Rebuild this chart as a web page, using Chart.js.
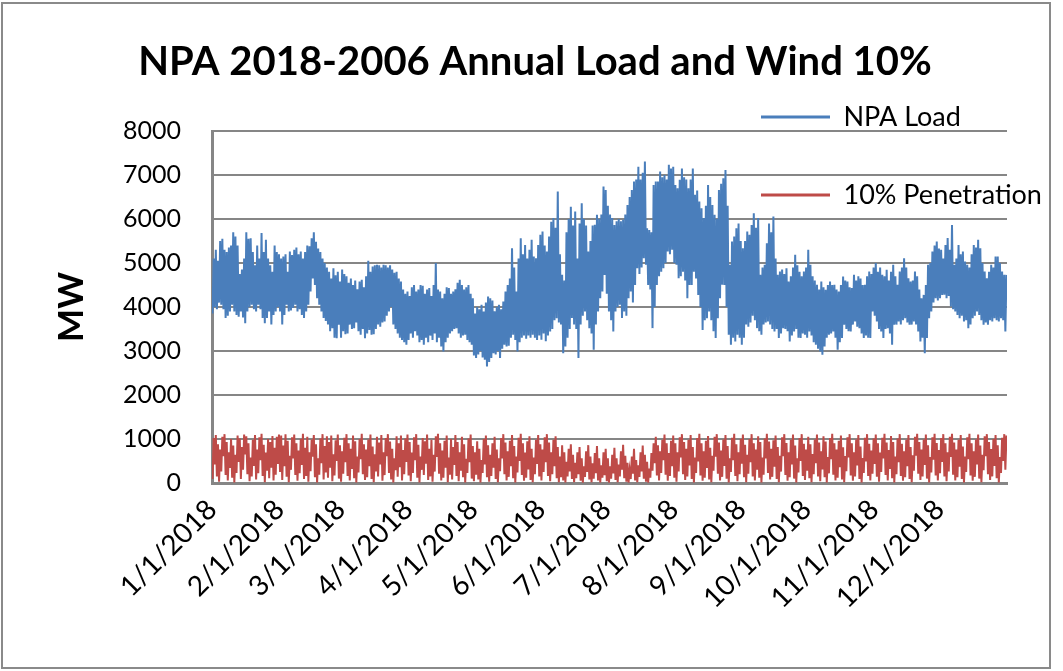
<!DOCTYPE html>
<html><head><meta charset="utf-8">
<script src="https://cdn.jsdelivr.net/npm/chart.js@4.4.1/dist/chart.umd.min.js"></script>
<style>
html,body{margin:0;padding:0;background:#fff;}
#wrap{position:relative;width:1063px;height:671px;overflow:hidden;background:#fff;}
#frame{position:absolute;left:1px;top:2px;width:1050px;height:667px;border:2px solid #8a8a8a;box-sizing:border-box;pointer-events:none;}
canvas{position:absolute;left:0;top:0;}
</style></head><body>
<div id="wrap"><canvas id="c" width="1063" height="671"></canvas><div id="frame"></div></div>
<script>
const chartTitle = 'NPA 2018-2006 Annual Load and Wind 10%';
const yTitle = 'MW';
const seriesNames = ['NPA Load', '10% Penetration'];
const monthLabels = ['1/1/2018','2/1/2018','3/1/2018','4/1/2018','5/1/2018','6/1/2018','7/1/2018','8/1/2018','9/1/2018','10/1/2018','11/1/2018','12/1/2018'];
const monthStartDays = [0,31,59,90,120,151,181,212,243,273,304,334];
const yTicks = [0,1000,2000,3000,4000,5000,6000,7000,8000];

// NPA Load (MW): for each day, overnight low then daytime high
const loadJan = [3850,5100, 4000,5300, 3950,5050, 4100,5500, 4050,5550, 3950,5300, 3750,5250, 3800,5350, 3900,5400, 4050,5700, 3900,5600, 3820,5400, 3780,4750, 3900,4850, 3760,5100, 3630,5700, 3900,5550, 4000,5560, 4050,5250, 3950,4950, 3900,5400, 4050,5100, 3950,5680, 3750,5250, 3630,5530, 3750,5100, 3900,4950, 3600,4800, 3820,5400, 3900,5250, 4000,5200];
const loadFeb = [3900,5100, 3600,5150, 3820,5200, 4050,4800, 3900,5260, 3920,5180, 3980,5300, 4050,5350, 3900,5200, 3950,5260, 3820,5100, 3750,5250, 3900,5400, 4050,5380, 4350,5560, 4650,5700, 4500,5480, 4200,5330, 4050,5250, 3900,5100, 3750,5000, 3680,4900, 3600,4800, 3450,4650, 3520,4880, 3300,4720, 3290,4800, 3600,4580];
const loadMar = [3300,4850, 3450,4750, 3380,4700, 3400,4550, 3600,4650, 3500,4500, 3520,4600, 3650,4400, 3450,4580, 3370,4620, 3500,4450, 3290,4700, 3400,5050, 3480,4800, 3370,4920, 3380,4950, 3500,4960, 3600,4950, 3550,4900, 3650,4960, 3670,4950, 3800,4900, 3900,4950, 4000,4850, 3600,4780, 3500,4800, 3400,4650, 3300,4580, 3250,4400, 3200,4300, 3140,4350];
const loadApr = [3250,4250, 3400,4450, 3300,4500, 3450,4350, 3350,4400, 3200,4500, 3250,4480, 3140,4300, 3300,4400, 3200,4430, 3350,4250, 3250,4500, 3400,5000, 3200,4400, 3300,4350, 3100,4200, 2990,4300, 3200,4450, 3300,4430, 3400,4300, 3450,4350, 3500,4400, 3520,4550, 3400,4620, 3300,4500, 3350,4400, 3370,4450, 3250,4500, 3200,4300, 3140,4200];
const loadMay = [2900,3850, 2840,4000, 2920,3950, 3000,4050, 2850,3900, 2800,4100, 2650,4240, 2750,4200, 2840,4150, 2950,3900, 2920,4000, 3000,4050, 2840,3950, 3050,4125, 3140,4350, 3100,4500, 3120,4650, 3300,5335, 3370,4900, 3250,4350, 2990,5100, 3200,5565, 3300,5200, 3350,5410, 3280,5100, 3350,5300, 3300,5530, 3370,5150, 3300,5110, 3250,5410, 3350,5640];
const loadJun = [3255,5715, 3400,5400, 3220,5260, 3350,5600, 3445,5940, 3500,6020, 3700,5800, 3745,6625, 3650,5200, 3600,4730, 2950,4600, 3100,5700, 3300,6000, 3500,6280, 3750,5850, 3600,6170, 3500,5100, 2840,5900, 3600,6360, 3800,6000, 3900,5850, 3700,5260, 3520,5500, 3400,5850, 3030,5870, 3600,6095, 3900,6000, 4200,6100, 4350,6740, 4730,6660];
const loadJul = [4300,6300, 3900,6100, 3700,6020, 3445,5865, 3900,5950, 4000,6000, 4050,5950, 3750,5980, 3900,6100, 3800,6320, 4200,6500, 4350,6660, 4100,6850, 4500,6900, 4880,7190, 4750,6900, 4900,7050, 5110,7305, 4960,5790, 4500,5750, 4400,5700, 3520,6775, 4000,6850, 4500,6850, 4700,7080, 4800,6950, 4880,7000, 5000,6900, 5260,7230, 5200,7150, 5300,7190];
const loadAug = [5000,6775, 4960,6700, 4655,6890, 4700,7150, 4800,6950, 4600,6900, 4200,6700, 4500,6900, 4500,7150, 4800,6550, 4650,6650, 4275,6400, 4000,6245, 3480,6020, 3700,6300, 3745,6775, 3900,6500, 3700,6320, 3450,6095, 3295,6000, 3745,6660, 4200,6800, 4505,6925, 4500,7115, 4000,6300, 3370,4960, 3140,5490, 3300,5600, 3215,5790, 3370,5900, 3300,5500];
const loadSep = [3140,5335, 3300,5500, 3600,5715, 3550,5640, 3650,5865, 3800,6130, 3700,5800, 3520,6020, 3450,4730, 3370,4900, 3600,4960, 3650,5450, 3670,5900, 3600,5700, 3500,6055, 3445,5100, 3500,4730, 3295,4805, 3400,4850, 3520,4750, 3500,4880, 3450,4580, 3215,4700, 3350,4900, 3445,5185, 3500,4950, 3300,4800, 3295,4700, 3400,4805, 3370,4900];
const loadOct = [3300,5300, 3445,4960, 3350,4700, 3200,4600, 3140,4505, 3050,4400, 2990,4580, 2915,4450, 3100,4390, 3300,4500, 3370,4580, 3400,4500, 3445,4505, 3300,4400, 3030,4350, 3200,4500, 3295,4690, 3595,4600, 3500,4580, 3450,4450, 3445,4430, 3600,4730, 3670,4600, 3550,4700, 3520,4650, 3400,4500, 3295,4505, 3350,4700, 3300,4805, 3295,4750, 3900,4900];
const loadNov = [3800,5000, 3670,4800, 3500,4900, 3445,4730, 3295,4700, 3500,4845, 3520,4600, 3400,4800, 3140,4960, 3595,4700, 3600,4505, 3670,4805, 3600,4900, 3700,5110, 3745,4900, 3650,4655, 3595,4580, 3600,4600, 3670,4805, 3600,4700, 3445,4400, 3215,4200, 3300,4275, 2950,4500, 3295,4960, 3745,5000, 3900,5260, 4100,5400, 4200,5490, 4150,5330];
const loadDec = [4200,5300, 4275,5100, 4280,5410, 4200,5565, 4250,5300, 4010,5865, 3950,4960, 3900,5100, 3820,5410, 3745,5200, 3800,5260, 3670,5035, 3700,4960, 3520,4900, 3600,5200, 3745,5410, 3800,5350, 3900,5530, 3820,5335, 3700,5000, 3595,4805, 3650,4655, 3595,4800, 3700,4960, 3670,4900, 3745,5150, 3700,5150, 3670,5000, 3745,4805, 3700,4730, 3445,4730];

// 10% wind penetration (MW): two readings per day
const windJan = [90,1020, 420,1090, 150,880, 30,760, 260,1050, 610,1110, 180,930, 60,700, 340,1000, 120,850, 10,640, 230,1080, 480,1010, 90,820, 300,1100, 650,1060, 200,900, 40,580, 150,980, 390,1090, 80,760, 220,1040, 520,1120, 160,870, 20,690, 280,1000, 110,930, 350,1070, 60,800, 190,1050, 430,1100];
const windFeb = [250,1080, 70,850, 380,1110, 140,960, 20,620, 300,1040, 560,1100, 180,900, 50,740, 220,1000, 410,1120, 90,800, 160,1050, 30,700, 270,990, 600,1090, 130,880, 10,560, 190,1010, 450,1110, 80,840, 240,1060, 120,930, 350,1080, 40,650, 170,970, 500,1100, 100,860];
const windMar = [30,720, 210,1030, 470,1110, 160,900, 60,780, 320,1080, 110,950, 10,600, 240,1000, 540,1120, 200,880, 70,760, 130,990, 380,1100, 90,830, 20,650, 260,1050, 150,920, 420,1090, 50,700, 180,1020, 610,1110, 230,940, 80,780, 10,560, 290,1060, 140,900, 360,1080, 60,750, 200,1010, 480,1100];
const windApr = [170,930, 40,690, 230,1040, 520,1110, 120,870, 10,600, 300,1020, 180,950, 440,1100, 70,780, 150,980, 30,640, 260,1060, 590,1120, 210,900, 60,740, 120,960, 350,1080, 20,580, 190,1000, 80,820, 410,1090, 160,930, 40,700, 280,1050, 130,880, 10,550, 230,1010, 470,1100, 100,840];
const windMay = [40,700, 190,950, 80,780, 10,520, 230,1000, 420,1080, 130,860, 30,640, 160,900, 350,1050, 90,760, 20,560, 270,1020, 560,1110, 200,920, 60,720, 140,960, 380,1090, 110,840, 10,600, 240,1030, 500,1120, 180,900, 50,690, 120,950, 310,1060, 70,780, 20,580, 200,980, 430,1090, 150,880];
const windJun = [60,760, 250,1040, 470,1110, 160,920, 40,700, 200,980, 380,1060, 110,820, 20,600, 130,860, 60,700, 10,480, 150,780, 260,880, 90,640, 20,460, 110,700, 200,820, 50,560, 10,380, 140,720, 250,860, 80,600, 20,450, 100,680, 220,840, 60,560, 10,400, 120,700, 180,780];
const windJul = [40,560, 10,380, 100,640, 220,800, 70,560, 20,420, 150,720, 300,870, 110,620, 30,460, 10,300, 90,600, 210,780, 60,520, 20,400, 140,700, 260,850, 100,640, 30,480, 10,330, 120,680, 280,900, 450,1050, 170,860, 60,720, 230,980, 520,1100, 190,900, 50,680, 160,960, 380,1080];
const windAug = [120,900, 30,700, 260,1040, 580,1110, 200,930, 70,780, 150,980, 400,1090, 90,820, 10,580, 230,1020, 490,1120, 170,900, 50,720, 120,960, 340,1070, 80,800, 20,620, 280,1050, 600,1110, 210,920, 60,740, 140,990, 390,1090, 100,840, 10,560, 250,1030, 520,1120, 160,880, 40,700, 200,1000];
const windSep = [440,1100, 130,870, 20,640, 210,1000, 470,1110, 150,900, 60,760, 300,1060, 120,930, 10,580, 190,1010, 560,1120, 230,940, 80,780, 140,970, 370,1080, 90,820, 20,620, 260,1040, 610,1110, 180,910, 50,700, 130,980, 420,1100, 100,850, 10,560, 240,1020, 500,1110, 160,890, 70,760];
const windOct = [280,1050, 110,880, 20,660, 200,990, 450,1100, 150,920, 40,720, 310,1060, 130,940, 10,590, 220,1020, 540,1120, 190,900, 60,760, 120,960, 360,1080, 80,810, 20,610, 270,1040, 580,1110, 170,900, 50,700, 150,990, 400,1090, 90,830, 10,570, 230,1030, 490,1110, 160,890, 60,740, 210,1010];
const windNov = [430,1100, 140,900, 30,690, 250,1030, 560,1120, 180,920, 60,750, 320,1070, 110,930, 10,600, 200,1010, 470,1110, 160,890, 50,720, 130,980, 380,1090, 90,820, 20,630, 280,1050, 620,1120, 210,930, 70,760, 150,990, 410,1100, 100,860, 10,590, 240,1040, 530,1120, 170,910, 60,750];
const windDec = [220,1020, 480,1110, 150,900, 40,700, 260,1050, 590,1120, 190,920, 60,760, 130,980, 370,1090, 90,830, 10,600, 250,1040, 540,1120, 170,900, 50,720, 140,990, 420,1100, 100,850, 20,640, 290,1060, 610,1110, 200,930, 70,770, 150,1000, 390,1090, 110,860, 10,590, 230,1030, 500,1110, 300,1080];

const loadAll = [].concat(loadJan, loadFeb, loadMar, loadApr, loadMay, loadJun, loadJul, loadAug, loadSep, loadOct, loadNov, loadDec);
const windAll = [].concat(windJan, windFeb, windMar, windApr, windMay, windJun, windJul, windAug, windSep, windOct, windNov, windDec);
// two readings per day: early morning and late afternoon (x in days since 1/1/2018)
const toPoints = arr => arr.map((v, i) => ({ x: Math.floor(i / 2) + (i % 2 ? 0.75 : 0.25), y: v }));

Chart.defaults.font.family = 'Lato';
Chart.defaults.color = '#000';

const boxPlacer = {
  id: 'boxPlacer',
  afterLayout(chart) {
    const l = chart.legend;
    if (l) {
      const w = l.width;
      l.left = 710; l.right = 710 + w;
      l.top = 52.5; l.bottom = 52.5 + 320; l.height = 320;
    }
    const t = chart.titleBlock;
    if (t) { t.left = 0; t.right = 1070; t.width = 1070; }
  }
};

new Chart(document.getElementById('c'), {
  type: 'line',
  data: {
    datasets: [
      { label: seriesNames[0], data: toPoints(loadAll), borderColor: '#4a7ebb', backgroundColor: '#4a7ebb', borderWidth: 2, pointRadius: 0, tension: 0, fill: false },
      { label: seriesNames[1], data: toPoints(windAll), borderColor: '#be4b48', backgroundColor: '#be4b48', borderWidth: 2, pointRadius: 0, tension: 0, fill: false }
    ]
  },
  options: {
    responsive: false,
    animation: false,
    devicePixelRatio: 1,
    events: [],
    layout: { padding: { left: 0, right: 56, top: 0, bottom: 0 } },
    plugins: {
      title: { display: true, text: chartTitle, color: '#000', font: { size: 40, weight: 'bold' }, padding: { top: 38, bottom: 45 } },
      legend: {
        position: 'chartArea', align: 'start',
        labels: {
          boxWidth: 69, boxHeight: 3, padding: 51, color: '#000', font: { size: 27 },
          generateLabels: (chart) => Chart.defaults.plugins.legend.labels.generateLabels(chart).map(l => Object.assign(l, { fillStyle: l.strokeStyle, lineWidth: 0 }))
        }
      },
      tooltip: { enabled: false }
    },
    scales: {
      x: {
        type: 'linear', min: 0, max: 365,
        afterBuildTicks: s => { s.ticks = monthStartDays.map(v => ({ value: v })); },
        afterFit: s => { s.height = 188; },
        grid: { display: false, drawTicks: false },
        border: { display: true, color: '#868686', width: 3 },
        ticks: { autoSkip: false, maxRotation: 45, minRotation: 45, padding: 10, color: '#000', font: { size: 28 },
          callback: (v, i) => monthLabels[i] }
      },
      y: {
        min: 0, max: 8000,
        afterBuildTicks: s => { s.ticks = yTicks.map(v => ({ value: v })); },
        afterFit: s => { s.width = 212; },
        grid: { color: '#868686', lineWidth: 2, drawTicks: false },
        border: { display: true, color: '#868686', width: 3 },
        ticks: { padding: 31, color: '#000', font: { size: 25 }, callback: v => String(v) },
        title: { display: true, text: yTitle, color: '#000', font: { size: 35, weight: 'bold' }, padding: { top: 51, bottom: 0 } }
      }
    }
  },
  plugins: [boxPlacer]
});
</script>
</body></html>
